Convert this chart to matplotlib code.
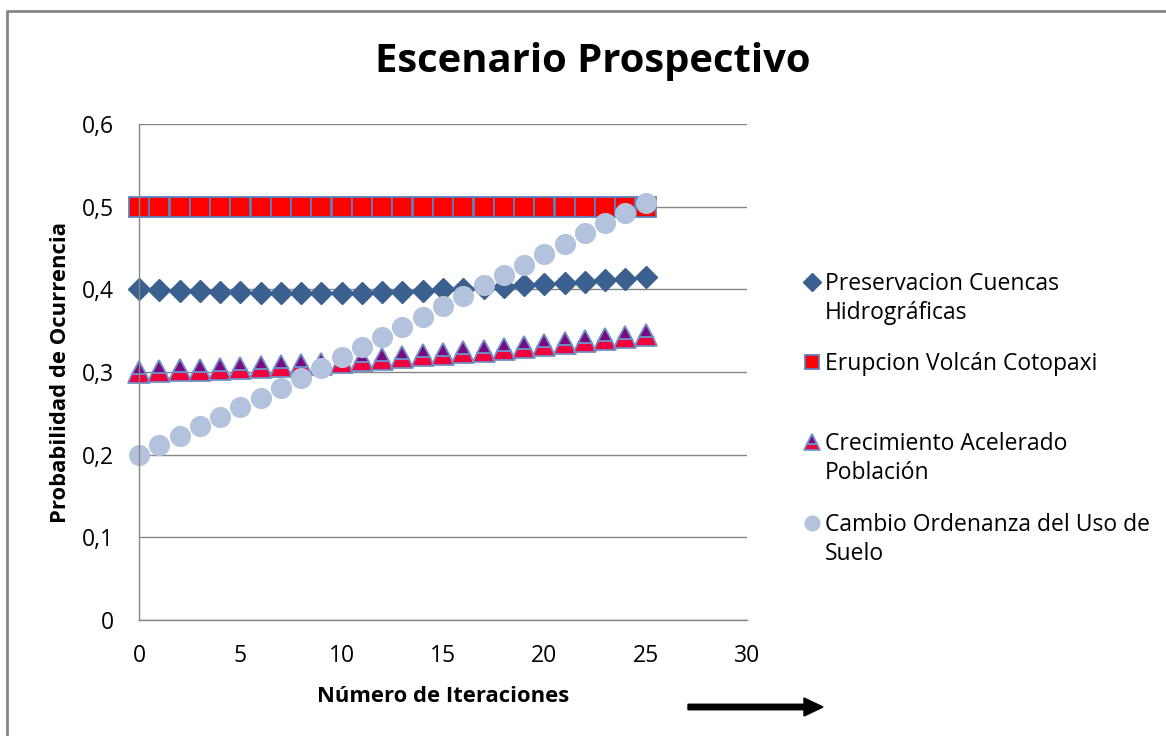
import matplotlib
matplotlib.use("Agg")
import matplotlib.pyplot as plt
from matplotlib.lines import Line2D
from matplotlib.patches import FancyArrow

plt.rcParams['font.family'] = ['Open Sans', 'DejaVu Sans']

iteraciones = list(range(26))
preservacion = [0.400, 0.399, 0.398, 0.398, 0.397, 0.397, 0.396, 0.396, 0.396, 0.396,
                0.396, 0.396, 0.397, 0.397, 0.398, 0.400, 0.401, 0.402, 0.403, 0.405,
                0.406, 0.408, 0.409, 0.411, 0.413, 0.415]
erupcion = [0.5] * 26
crecimiento = [0.300, 0.301, 0.302, 0.303, 0.304, 0.305, 0.306, 0.307, 0.308, 0.310,
               0.312, 0.314, 0.316, 0.318, 0.320, 0.322, 0.324, 0.326, 0.328, 0.330,
               0.333, 0.335, 0.337, 0.340, 0.342, 0.345]
cambio = [0.200, 0.212, 0.223, 0.235, 0.246, 0.258, 0.269, 0.281, 0.293, 0.305,
          0.318, 0.330, 0.342, 0.355, 0.367, 0.380, 0.392, 0.405, 0.417, 0.430,
          0.443, 0.455, 0.468, 0.480, 0.492, 0.505]

etiquetas = ["Preservacion Cuencas\nHidrográficas", "Erupcion Volcán Cotopaxi",
             "Crecimiento Acelerado\nPoblación", "Cambio Ordenanza del Uso de\nSuelo"]
y_ticks = [0, 0.1, 0.2, 0.3, 0.4, 0.5, 0.6]
y_labels = ["0", "0,1", "0,2", "0,3", "0,4", "0,5", "0,6"]
x_ticks = [0, 5, 10, 15, 20, 25, 30]

estilos = [
    dict(marker='D', markersize=11.2, color='#3A6090', markeredgecolor='#3A6090'),
    dict(marker='s', markersize=13.8, color='#FF0000', markeredgecolor='#5C82BE', markeredgewidth=1.3),
    dict(marker='^', markersize=16, color='#F0003C', markerfacecoloralt='#7A0A80',
         fillstyle='bottom', markeredgecolor='#6F90C8', markeredgewidth=1.3),
    dict(marker='o', markersize=14.2, color='#B4C3DD', markeredgecolor='#B4C3DD'),
]
leg_size = [9, 10, 11, 10.5]

fig = plt.figure(figsize=(11.66, 7.36), dpi=100)
ax = fig.add_axes([0.1192, 0.1576, 0.5215, 0.6739])

for serie, est in zip([preservacion, erupcion, crecimiento, cambio], estilos):
    ax.plot(iteraciones, serie, linestyle='none', clip_on=False, **est)

ax.set_xlim(0, 30)
ax.set_ylim(0, 0.6)
ax.set_yticks(y_ticks)
ax.set_yticklabels(y_labels)
ax.set_xticks(x_ticks)
ax.tick_params(axis='both', length=0, labelsize=16.5, colors='black')
ax.tick_params(axis='y', pad=18)
ax.tick_params(axis='x', pad=17)
ax.grid(axis='y', color='#868686', linewidth=1)
ax.set_axisbelow(True)
for s in ['top', 'right']:
    ax.spines[s].set_visible(False)
for s in ['left', 'bottom']:
    ax.spines[s].set_color('#868686')
    ax.spines[s].set_linewidth(1)

ax.set_xlabel("Número de Iteraciones", fontsize=15.8, fontweight='bold', labelpad=13)
ax.set_ylabel("Probabilidad de Ocurrencia", fontsize=15.8, fontweight='bold', labelpad=8)
fig.text(0.508, 0.917, "Escenario Prospectivo", fontsize=28.8, fontweight='bold',
         ha='center', va='center')

# leyenda a mano (como Excel: marcador alineado con la primera linea)
leg_y = [282, 362, 442, 523]
for lab, est, ms, yp in zip(etiquetas, estilos, leg_size, leg_y):
    e = dict(est)
    e['markersize'] = ms
    fig.add_artist(Line2D([812 / 1166], [1 - yp / 736], transform=fig.transFigure,
                          linestyle='none', **e))
    fig.text(825 / 1166, 1 - (yp - 10) / 736, lab, fontsize=16.5, ha='left', va='top',
             linespacing=1.3)

# marco del grafico
fig.add_artist(Line2D([7 / 1166, 7 / 1166, 1.0], [0.0, 1 - 11 / 736, 1 - 11 / 736],
                      transform=fig.transFigure, color='#868686', linewidth=2))

# flecha
fig.add_artist(FancyArrow(6.88, 0.29, 1.35, 0, width=0.055, head_width=0.18,
                          head_length=0.19, length_includes_head=True,
                          color='black', transform=fig.dpi_scale_trans))

fig.savefig("out.png", dpi=100)
